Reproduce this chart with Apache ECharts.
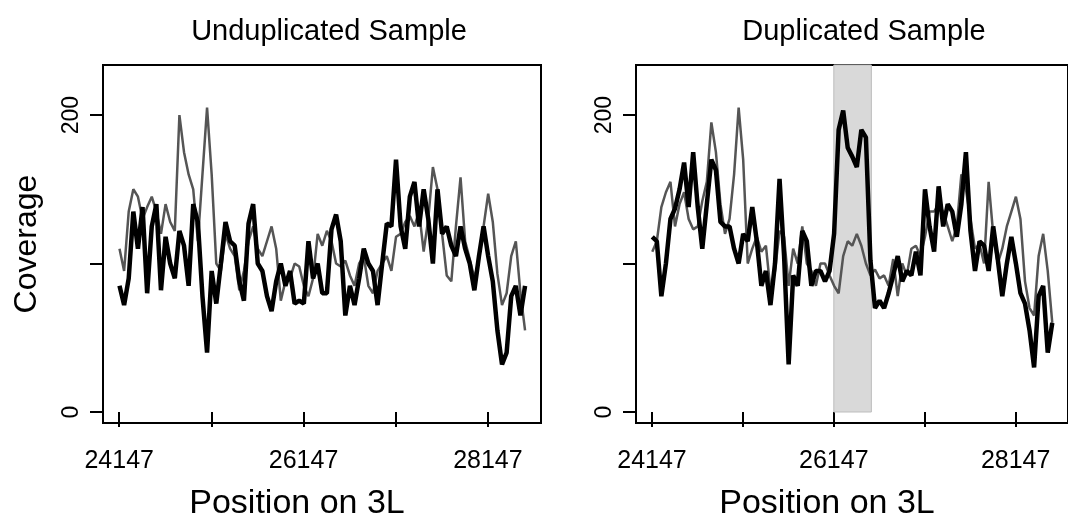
<!DOCTYPE html>
<html>
<head>
<meta charset="utf-8">
<script src="https://cdn.jsdelivr.net/npm/echarts@6/dist/echarts.min.js"></script>
<style>
  html, body { margin: 0; padding: 0; background: #fff; }
  #main { width: 1068px; height: 529px; }
</style>
</head>
<body>
<div id="main"></div>
<script>
// positions on 3L (sampled along the x axis)
const positions = [24150, 24200, 24250, 24300, 24350, 24400, 24450, 24500, 24550, 24600, 24650, 24700, 24750, 24800, 24850, 24900, 24950,
  25000, 25050, 25100, 25150, 25200, 25250, 25300, 25350, 25400, 25450, 25500, 25550, 25600, 25650, 25700, 25750, 25800,
  25850, 25900, 25950, 26000, 26050, 26100, 26150, 26200, 26250, 26300, 26350, 26400, 26450, 26500, 26550, 26600, 26650, 26700,
  26750, 26800, 26850, 26900, 26950, 27000, 27050, 27100, 27150, 27200, 27250, 27300, 27350, 27400, 27450, 27500, 27550,
  27600, 27650, 27700, 27750, 27800, 27850, 27900, 27950, 28000, 28050, 28100, 28150, 28200, 28250, 28300, 28350, 28400, 28450, 28500, 28550]

// Unduplicated sample
const undupGray = [110, 95, 135, 150, 145, 130, 138, 145, 135, 120, 140, 128, 122, 200, 175, 160, 150,
  115, 160, 205, 160, 100, 95, 120, 110, 105, 82, 95, 115, 125, 110, 105, 115, 125,
  110, 75, 88, 90, 100, 98, 85, 78, 90, 120, 112, 122, 115, 100, 98, 102, 92, 85,
  100, 105, 85, 80, 95, 100, 105, 95, 118, 120, 128, 132, 125, 135, 108, 130, 165,
  150, 120, 92, 88, 125, 158, 115, 103, 90, 103, 125, 147, 128, 93, 72, 80, 105, 115, 80, 55]
const undupBlack = [85, 72, 90, 135, 110, 138, 80, 125, 140, 82, 118, 100, 90, 122, 112, 85, 140,
  128, 78, 40, 95, 73, 100, 128, 115, 112, 88, 75, 127, 140, 100, 95, 78, 68,
  88, 100, 85, 95, 73, 75, 73, 115, 90, 100, 80, 80, 123, 133, 115, 65, 85, 72,
  90, 110, 100, 95, 72, 100, 127, 125, 170, 125, 110, 145, 155, 125, 150, 130, 100,
  150, 120, 125, 112, 105, 125, 110, 100, 82, 105, 125, 105, 88, 55, 32, 40, 78, 85, 65, 85]

// Duplicated sample
const dupGray = [108, 115, 138, 148, 155, 125, 140, 148, 130, 123, 125, 142, 155, 195, 175, 140, 120,
  130, 160, 205, 170, 100, 110, 118, 108, 112, 82, 95, 122, 118, 85, 110, 100, 125,
  100, 95, 85, 100, 100, 92, 85, 80, 105, 115, 112, 120, 112, 100, 92, 96, 90, 92,
  85, 103, 78, 100, 92, 110, 112, 105, 118, 135, 135, 140, 135, 125, 115, 125, 160,
  150, 130, 110, 113, 100, 155, 120, 100, 110, 125, 135, 145, 130, 88, 70, 65, 105, 120, 95, 60]
const dupBlack = [118, 115, 78, 100, 130, 137, 150, 168, 138, 175, 138, 110, 140, 170, 163, 128, 125,
  125, 110, 100, 120, 115, 138, 115, 85, 95, 72, 100, 157, 105, 32, 92, 85, 122,
  115, 85, 95, 95, 88, 95, 120, 190, 203, 178, 172, 165, 190, 185, 102, 70, 75, 70,
  80, 92, 105, 88, 95, 92, 108, 92, 150, 125, 108, 152, 125, 140, 135, 118, 140,
  175, 122, 95, 115, 112, 95, 125, 103, 78, 100, 118, 100, 80, 73, 55, 30, 78, 85, 40, 60]

const dupRegion = [26147, 26560]
const xTicks = [24147, 25147, 26147, 27147, 28147]
const xLabels = [24147, 26147, 28147]
const yTicks = [0, 100, 200]
const yLabels = [0, 200]

const pairs = (ys) => positions.map((p, i) => [p, ys[i]])
const font = 'Liberation Sans, Arial, Helvetica, sans-serif'

const makeX = (idx) => ({
  type: 'value',
  gridIndex: idx,
  min: 23971,
  max: 28723,
  name: 'Position on 3L',
  nameLocation: 'middle',
  nameGap: 64,
  // xlab sits a bit left of the box centre in the original
  nameTextStyle: { fontSize: 34, color: '#000', fontFamily: font, padding: [0, 50, 0, 0] },
  axisLine: { show: false },
  splitLine: { show: false },
  axisTick: { show: true, length: 15, customValues: xTicks, lineStyle: { color: '#000', width: 2 } },
  axisLabel: { customValues: xLabels, fontSize: 25, color: '#000', margin: 26, fontFamily: font,
    formatter: (v) => String(v) }
})

const makeY = (idx, showName) => ({
  type: 'value',
  gridIndex: idx,
  min: -7.4,
  max: 233.7,
  name: showName ? 'Coverage' : '',
  nameLocation: 'middle',
  nameGap: 60,
  nameRotate: 90,
  nameTextStyle: { fontSize: 32, color: '#000', fontFamily: font },
  axisLine: { show: false },
  splitLine: { show: false },
  axisTick: { show: true, length: 13, customValues: yTicks, lineStyle: { color: '#000', width: 2 } },
  axisLabel: { customValues: yLabels, rotate: 90, fontSize: 23, color: '#000', margin: 20, fontFamily: font,
    formatter: (v) => String(v) }
})

const chart = echarts.init(document.getElementById('main'))
const option = {
  backgroundColor: '#fff',
  animation: false,
  title: [
    { text: 'Unduplicated Sample', left: 324, top: 12, textAlign: 'center',
      textStyle: { fontSize: 29, fontWeight: 'normal', color: '#000', fontFamily: font } },
    { text: 'Duplicated Sample', left: 859, top: 12, textAlign: 'center',
      textStyle: { fontSize: 29, fontWeight: 'normal', color: '#000', fontFamily: font } }
  ],
  grid: [
    { left: 103, top: 65, width: 438, height: 358, show: true, borderColor: '#000', borderWidth: 2, backgroundColor: 'transparent' },
    { left: 636, top: 65, width: 438, height: 358, show: true, borderColor: '#000', borderWidth: 2, backgroundColor: 'transparent' }
  ],
  xAxis: [makeX(0), makeX(1)],
  yAxis: [makeY(0, true), makeY(1, false)],
  series: [
    {
      name: 'undup gray', type: 'line', xAxisIndex: 0, yAxisIndex: 0,
      data: pairs(undupGray), showSymbol: false,
      lineStyle: { color: '#555', width: 2.5 }
    },
    {
      name: 'undup black', type: 'line', xAxisIndex: 0, yAxisIndex: 0,
      data: pairs(undupBlack), showSymbol: false,
      lineStyle: { color: '#000', width: 4.5 }
    },
    {
      name: 'dup gray', type: 'line', xAxisIndex: 1, yAxisIndex: 1,
      data: pairs(dupGray), showSymbol: false,
      lineStyle: { color: '#555', width: 2.5 },
      markArea: {
        silent: true,
        itemStyle: {
          color: '#d9d9d9', borderColor: '#bdbdbd', borderWidth: 1,
          decal: { symbol: 'rect', dashArrayX: [1, 0], dashArrayY: [1, 5], rotation: -Math.PI / 4, color: 'rgba(0,0,0,0.06)' }
        },
        data: [[{ xAxis: dupRegion[0], yAxis: 0 }, { xAxis: dupRegion[1], yAxis: 233.7 }]]
      },
      z: 3
    },
    {
      name: 'dup black', type: 'line', xAxisIndex: 1, yAxisIndex: 1,
      data: pairs(dupBlack), showSymbol: false,
      lineStyle: { color: '#000', width: 4.5 },
      z: 4
    }
  ]
}
chart.setOption(option)
</script>
</body>
</html>
